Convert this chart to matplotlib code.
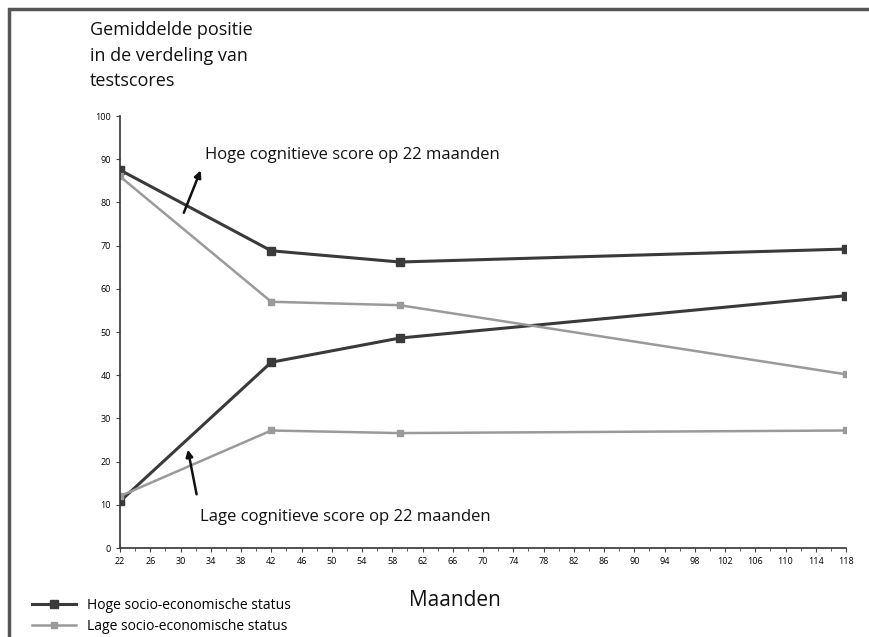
import matplotlib
matplotlib.use("Agg")
import matplotlib.pyplot as plt
from matplotlib.patches import Rectangle
import numpy as np

plt.rcParams['font.family'] = ['Open Sans', 'DejaVu Sans']

# months of measurement
maanden = [22, 42, 59, 118]

# average position in test score distribution
hoog_cog_hoog_ses = [87.5, 68.8, 66.2, 69.2]
hoog_cog_laag_ses = [86.0, 57.0, 56.2, 40.2]
laag_cog_hoog_ses = [10.8, 43.0, 48.6, 58.4]
laag_cog_laag_ses = [12.0, 27.2, 26.6, 27.2]

x_ticks = list(range(22, 119, 4))
y_ticks = list(range(0, 101, 10))

DONKER = '#3a3a3a'
GRIJS = '#9a9a9a'

fig = plt.figure(figsize=(8.69, 6.37), dpi=100)
ax = fig.add_axes([120/869, 89/637, 726/869, 432/637])

# border round the whole picture
fig.patches.append(Rectangle((9/869, -0.05), 1.1, 1 - 9/637 + 0.05,
                             transform=fig.transFigure, fill=False,
                             edgecolor='#555555', linewidth=2.5))

l1, = ax.plot(maanden, hoog_cog_hoog_ses, '-s', color=DONKER, lw=2.2, ms=6)
ax.plot(maanden, laag_cog_hoog_ses, '-s', color=DONKER, lw=2.2, ms=6)
l2, = ax.plot(maanden, hoog_cog_laag_ses, '-s', color=GRIJS, lw=1.8, ms=5)
ax.plot(maanden, laag_cog_laag_ses, '-s', color=GRIJS, lw=1.8, ms=5)

ax.set_xlim(22, 118)
ax.set_ylim(0, 100)
ax.set_xticks(x_ticks)
ax.set_xticks(list(range(22, 119, 2)), minor=True)
ax.set_yticks(y_ticks)
ax.tick_params(axis='both', labelsize=6.5, color='#444444', length=3, direction='out')
ax.tick_params(axis='x', which='minor', length=2, color='#444444')
for s in ['top', 'right']:
    ax.spines[s].set_visible(False)
for s in ['left', 'bottom']:
    ax.spines[s].set_color('#333333')
    ax.spines[s].set_linewidth(1.2)

ax.annotate('', xy=(32.8, 88), xytext=(30.3, 77),
            arrowprops=dict(arrowstyle='-|>', color='#111111', lw=1.8))
ax.text(33.2, 91, 'Hoge cognitieve score op 22 maanden', fontsize=12,
        va='center', ha='left', color='#111111')
ax.annotate('', xy=(30.9, 23.4), xytext=(32.2, 11.8),
            arrowprops=dict(arrowstyle='-|>', color='#111111', lw=1.8))
ax.text(32.6, 7.2, 'Lage cognitieve score op 22 maanden', fontsize=12,
        va='center', ha='left', color='#111111')

fig.text(90/869, 1 - 21/637,
         'Gemiddelde positie\nin de verdeling van\ntestscores',
         fontsize=13, va='top', ha='left', linespacing=1.55, color='#111111')

fig.text(455/869, 1 - 600/637, 'Maanden', fontsize=15, ha='center', va='center',
         color='#111111')

fig.legend([l1, l2], ['Hoge socio-economische status', 'Lage socio-economische status'],
           loc='upper left', bbox_to_anchor=(26/869, 1 - 592/637), frameon=False,
           fontsize=10, handlelength=3.2, labelspacing=0.45, borderaxespad=0)

fig.savefig('out.png', dpi=100)
